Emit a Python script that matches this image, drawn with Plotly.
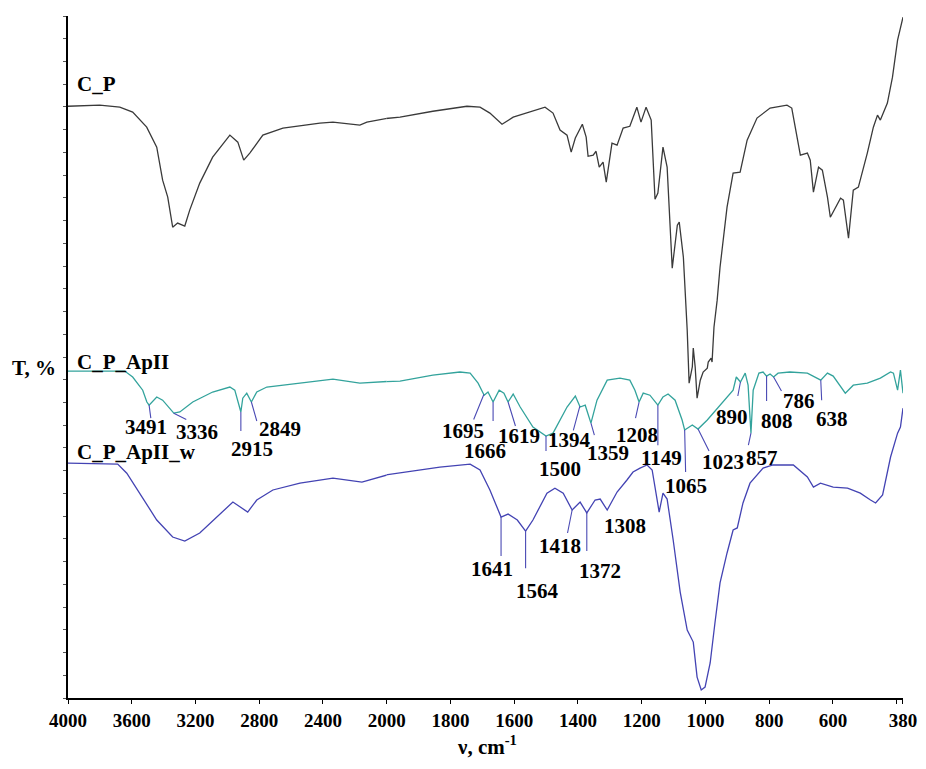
import numpy as np
import plotly.graph_objects as go

# ---------------- data ----------------
# wavenumbers (cm-1) and transmittance (arbitrary offset units, 1 unit = 1 y tick)
cp_wn = [4000,3801,3675,3594,3506,3443,3406,3374,3343,3312,3267,3236,3173,3092,2984,2934,2897,2859,2777,2651,
         2419,2337,2168,2124,1958,1855,1748,1707,1676,1638,1603,1503,1478,1456,1434,1421,1408,1386,1374,1368,
         1352,1343,1333,1321,1311,1293,1277,1258,1237,1215,1202,1186,1170,1158,1149,1133,1120,1104,1088,1082,
         1069,1057,1051,1041,1038,1032,1026,1016,1007,994,991,982,979,973,963,954,932,913,891,869,
         838,797,744,729,712,702,680,671,661,645,633,617,608,592,576,567,551,536,520,492,
         473,460,451,429,413,397,380]
cp_t = [26.03,26.08,25.99,25.77,25.11,24.23,22.78,22.03,20.71,20.89,20.76,21.46,22.65,23.79,24.76,24.45,23.66,23.97,24.76,25.07,
        25.29,25.33,25.20,25.33,25.55,25.81,26.03,25.99,25.73,25.24,25.55,25.99,25.73,24.98,24.76,24.01,24.63,25.24,24.67,23.83,
        23.88,24.05,23.35,23.57,22.69,24.41,24.32,25.07,25.15,25.99,25.33,25.99,25.42,21.94,22.21,24.23,23.35,18.91,20.80,20.93,
        19.39,16.18,13.85,14.56,15.39,14.56,13.19,13.98,14.34,14.51,14.78,14.95,14.78,16.31,17.50,18.95,21.59,23.09,23.13,24.54,
        25.51,25.95,26.08,25.95,24.54,23.88,23.97,23.66,22.25,23.35,23.22,22.03,21.15,21.55,21.99,21.90,20.23,22.34,22.47,23.97,
        25.11,25.64,25.42,26.17,27.31,28.94,29.95]

ap_wn = [4000,3644,3594,3531,3505,3491,3443,3406,3336,3298,3217,3092,2984,2953,2915,2903,2878,2849,2815,2752,
         2544,2337,2168,1958,1855,1770,1738,1713,1694,1682,1666,1647,1632,1619,1603,1581,1541,1500,1478,1434,
         1408,1393,1377,1359,1340,1308,1268,1237,1221,1208,1195,1174,1149,1133,1117,1095,1073,1065,1041,1023,
         994,954,913,903,890,875,866,857,850,832,819,808,797,786,772,735,680,638,617,599,
         576,561,536,492,451,419,410,397,388,380]
ap_t = [14.38,14.38,14.12,13.54,13.02,12.88,13.24,13.10,12.53,12.58,13.02,13.46,13.68,13.54,12.58,13.19,13.41,13.02,13.46,13.68,
        13.85,14.03,13.85,13.94,14.20,14.34,14.29,13.85,13.32,13.46,13.02,13.54,13.41,13.02,13.37,12.80,11.92,11.52,11.65,12.80,
        13.28,12.80,12.88,12.09,13.10,13.98,14.07,13.98,13.54,13.02,13.41,13.32,12.88,13.24,13.37,13.10,12.23,11.79,12.01,11.83,
        12.23,12.88,13.54,14.12,13.90,14.29,13.76,11.65,13.54,14.29,14.34,14.16,14.25,14.12,14.29,14.34,14.29,13.98,14.29,14.16,
        13.68,13.41,13.76,13.85,14.07,14.34,14.29,13.54,14.42,13.41]

aw_wn = [4000,3688,3631,3549,3443,3343,3267,3173,3066,2965,2872,2815,2714,2544,2337,2155,1958,1833,1738,1707,
         1676,1647,1641,1619,1590,1564,1541,1497,1472,1446,1418,1393,1372,1346,1330,1308,1277,1246,1227,1205,
         1183,1167,1158,1145,1133,1120,1101,1079,1057,1038,1026,1013,1001,985,970,954,932,913,900,882,
         860,819,788,724,680,661,639,599,554,514,482,466,444,419,397,388,380]
aw_t = [10.33,10.29,9.89,9.01,7.83,7.08,6.90,7.26,7.96,8.62,8.18,8.71,9.15,9.45,9.67,9.50,9.89,10.16,10.29,10.03,
        9.15,8.14,7.96,8.09,7.83,7.34,7.83,9.01,9.23,9.01,8.27,8.62,8.14,8.71,8.75,8.27,9.06,9.59,9.94,10.11,
        10.25,10.03,9.28,8.18,9.01,8.75,6.95,4.66,2.99,2.46,0.92,0.35,0.48,1.54,3.30,5.06,6.38,7.39,7.48,8.58,
        9.45,10.11,10.25,10.25,9.72,9.28,9.45,9.28,9.23,9.01,8.71,8.58,8.93,10.60,11.65,11.92,12.75]

series_names = ["C_P", "C_P_ApII", "C_P_ApII_w"]
series_colors = ["#3a3a3a", "#33a39c", "#4343b3"]

# peak labels: wavenumber, series index (1 = C_P_ApII, 2 = C_P_ApII_w)
peak_wn = [3491, 3336, 2915, 2849, 1695, 1666, 1619, 1500, 1394, 1359, 1208, 1149, 1065, 1023, 890, 857, 808, 786, 638,
           1641, 1564, 1418, 1372, 1308]
peak_series = [1]*19 + [2]*5

# x tick labels
hi_ticks = [4000, 3600, 3200, 2800, 2400, 2000]
lo_ticks = [1800, 1600, 1400, 1200, 1000, 800, 600, 380]
lo_minor = [400]

# ---------------- layout helpers (pixel offsets for the labels) ----------------
line_off = [(2, 15), (14, 7), (0, 21), (6, 21), (-11, 27), (0, 21), (8, 26), (0, 17), (-7, 26), (4, 14),
            (-4, 18), (0, 42), (1, 44), (12, 24), (-3, 16), (-3, 14), (0, 27), (9, 16), (1, 22),
            (0, 41), (0, 39), (-5, 25), (0, 40), None]
text_off = [(-3, 22), (23, 19), (11, 37), (29, 27), (-21, 36), (-8, 49), (11, 34), (14, 33), (-10, 34), (17, 30),
            (-2, 33), (4, 53), (1, 56), (25, 33), (-8, 35), (11, 25), (10, 45), (25, 24), (11, 39),
            (-9, 52), (12, 60), (-12, 36), (13, 58), (18, 16)]

SERIF = "Liberation Serif"
LAB = 21
BREAK = 2000.0
SPLIT = 318.4 / 834.4  # fraction of width for 4000-2000 part (scale change at 2000)

fig = go.Figure()
all_wn = [cp_wn, ap_wn, aw_wn]
all_t = [cp_t, ap_t, aw_t]
for wn, t, name, col in zip(all_wn, all_t, series_names, series_colors):
    wn = np.array(wn, float)
    t = np.array(t, float)
    k = int(np.argmax(wn < BREAK))  # first point below the break
    fig.add_trace(go.Scatter(x=wn[:k + 1], y=t[:k + 1], mode="lines", name=name,
                             line=dict(color=col, width=1.3), xaxis="x", yaxis="y",
                             showlegend=False, hoverinfo="skip"))
    fig.add_trace(go.Scatter(x=wn[k - 1:], y=t[k - 1:], mode="lines", name=name,
                             line=dict(color=col, width=1.3), xaxis="x2", yaxis="y",
                             showlegend=False, hoverinfo="skip"))

annotations = []
lab_color = "#4a4ab4"
for p, s, lo, to in zip(peak_wn, peak_series, line_off, text_off):
    wn = np.array(all_wn[s], float)[::-1]
    t = np.array(all_t[s], float)[::-1]
    yv = float(np.interp(p, wn, t))
    xr = "x" if p >= BREAK else "x2"
    if lo is not None:
        annotations.append(dict(x=p, y=yv, xref=xr, yref="y", text=" ", showarrow=True,
                                arrowhead=0, arrowwidth=1.1, arrowcolor=lab_color,
                                ax=lo[0], ay=lo[1], standoff=0, startstandoff=0,
                                font=dict(size=1)))
    annotations.append(dict(x=p, y=yv, xref=xr, yref="y", text="<b>%d</b>" % p, showarrow=False,
                            xshift=to[0], yshift=-to[1], xanchor="center", yanchor="middle",
                            font=dict(family=SERIF, size=LAB, color="black")))

# series labels
lab_pos = [(0.008, 0.901), (0.008, 0.4925), (0.008, 0.3605)]
for name, (lx, ly) in zip(series_names, lab_pos):
    annotations.append(dict(x=lx, y=ly, xref="paper", yref="paper", text="<b>%s</b>" % name,
                            showarrow=False, xanchor="left", yanchor="middle",
                            font=dict(family=SERIF, size=LAB, color="black")))

annotations.append(dict(x=-0.0123, y=0.4837, xref="paper", yref="paper", text="<b>T, %</b>",
                        showarrow=False, xanchor="right", yanchor="middle",
                        font=dict(family=SERIF, size=LAB, color="black")))
annotations.append(dict(x=0.502, y=-0.069, xref="paper", yref="paper",
                        text="<b>ν, cm<sup>-1</sup></b>",
                        showarrow=False, xanchor="center", yanchor="middle",
                        font=dict(family=SERIF, size=LAB, color="black")))

axis_common = dict(showline=True, linecolor="black", linewidth=1.5, ticks="outside", ticklen=4,
                   tickcolor="black", tickwidth=1, showgrid=False, zeroline=False, automargin=False,
                   tickfont=dict(family=SERIF, size=19, color="black", weight="bold"))

fig.update_layout(
    width=926, height=769,
    margin=dict(l=68, r=23, t=16, b=71),
    paper_bgcolor="white", plot_bgcolor="white",
    xaxis=dict(domain=[0, SPLIT], range=[4000, 2000], tickvals=hi_ticks,
               ticktext=[str(v) for v in hi_ticks], anchor="y", **axis_common),
    xaxis2=dict(domain=[SPLIT, 1], range=[2000, 380], tickvals=lo_ticks,
                ticktext=[str(v) for v in lo_ticks], anchor="y",
                minor=dict(tickmode="array", tickvals=lo_minor, ticks="outside", ticklen=4,
                           tickcolor="black", tickwidth=1),
                **axis_common),
    yaxis=dict(range=[0, 30], dtick=1, tick0=0, showticklabels=False, showline=True,
               linecolor="black", linewidth=1.5, ticks="outside", ticklen=3, tickcolor="#555",
               showgrid=False, zeroline=False, automargin=False),
    annotations=annotations,
    showlegend=False,
)

fig.write_html("out.html", config={"displayModeBar": False},
               post_script="document.body.style.margin='0px';document.body.style.overflow='hidden';")
